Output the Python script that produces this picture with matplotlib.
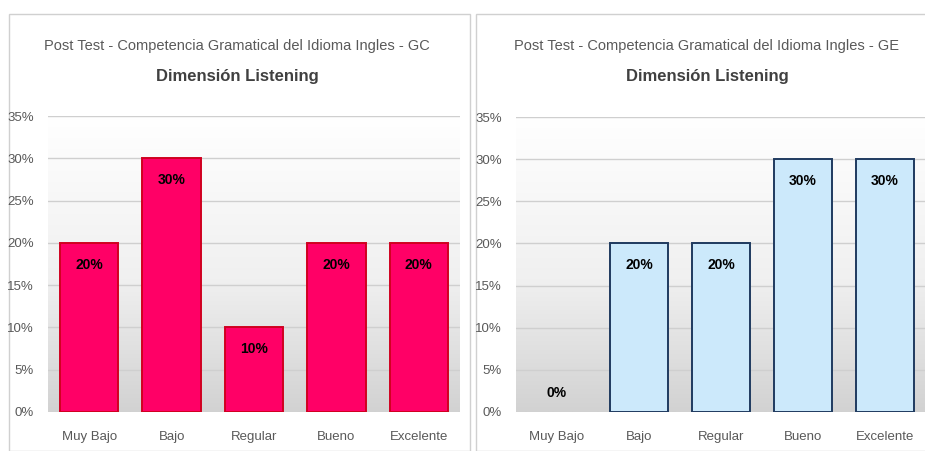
import numpy as np
import matplotlib
matplotlib.use('Agg')
import matplotlib.pyplot as plt
from matplotlib.patches import Rectangle
from matplotlib.ticker import PercentFormatter

plt.rcParams['font.family'] = ['Liberation Sans Narrow', 'Liberation Sans', 'DejaVu Sans']

# Datos
categorias = ['Muy Bajo', 'Bajo', 'Regular', 'Bueno', 'Excelente']
valores_gc = [0.20, 0.30, 0.10, 0.20, 0.20]
valores_ge = [0.00, 0.20, 0.20, 0.30, 0.30]
titulo_gc = 'Post Test - Competencia Gramatical del Idioma Ingles - GC'
titulo_ge = 'Post Test - Competencia Gramatical del Idioma Ingles - GE'
subtitulo = 'Dimensión Listening'

fig = plt.figure(figsize=(9.25, 4.51), dpi=100)
fig.patch.set_facecolor('white')

# Marcos de los paneles
fig.patches.append(Rectangle((9/925, 0), 461/925, 1 - 14/451, transform=fig.transFigure,
                             facecolor='white', edgecolor='#d0d0d0', lw=1, zorder=-1))
fig.patches.append(Rectangle((476/925, 0), 460/925, 1 - 14/451, transform=fig.transFigure,
                             facecolor='white', edgecolor='#d0d0d0', lw=1, zorder=-1))

grad = np.linspace(0, 1, 256).reshape(-1, 1)
cmap = matplotlib.colors.LinearSegmentedColormap.from_list(
    'g', [(0, '#ffffff'), (0.55, '#f0f0f0'), (1, '#d2d2d2')])


def dibujar(ax, valores, color, borde, titulo, cx):
    x = np.arange(len(categorias))
    ax.set_zorder(2)
    ax.imshow(grad, aspect='auto', cmap=cmap, extent=(-0.5, 4.5, 0, 0.35), zorder=0, origin='upper')
    bordes = [borde if v > 0 else 'none' for v in valores]
    ax.bar(x, valores, width=0.71, color=color, edgecolor=bordes, linewidth=1.4, zorder=3)
    ax.set_xlim(-0.5, 4.5)
    ax.set_ylim(0, 0.35)
    ax.set_yticks(np.arange(0, 0.36, 0.05))
    ax.yaxis.set_major_formatter(PercentFormatter(1.0, decimals=0))
    ax.set_xticks(x)
    ax.set_xticklabels(categorias)
    ax.grid(axis='y', color='#cfcfcf', lw=1, zorder=1)
    for s in ax.spines.values():
        s.set_visible(False)
    ax.tick_params(length=0, colors='#595959', labelsize=9.5)
    ax.tick_params(axis='x', pad=14)
    ax.tick_params(axis='y', pad=10)
    ax.set_facecolor('none')
    for xi, v in zip(x, valores):
        y = v - 0.026 if v > 0.05 else v + 0.022
        ax.text(xi, y, f'{v*100:.0f}%', ha='center', va='center', fontsize=10,
                fontweight='bold', color='black', zorder=4)
    fig.text(cx, 1 - 46/451, titulo, ha='center', va='center', fontsize=10.5, color='#595959')
    fig.text(cx, 1 - 77/451, subtitulo, ha='center', va='center', fontsize=12,
             fontweight='bold', color='#404040')


ax1 = fig.add_axes([48/925, 1 - 412/451, 412/925, 296/451])
dibujar(ax1, valores_gc, '#ff0066', '#d00020', titulo_gc, 237/925)

ax2 = fig.add_axes([516/925, 1 - 412/451, 410/925, 295/451])
dibujar(ax2, valores_ge, '#cce9fb', '#1f3a5f', titulo_ge, 707/925)

fig.savefig('out.png', dpi=100)
